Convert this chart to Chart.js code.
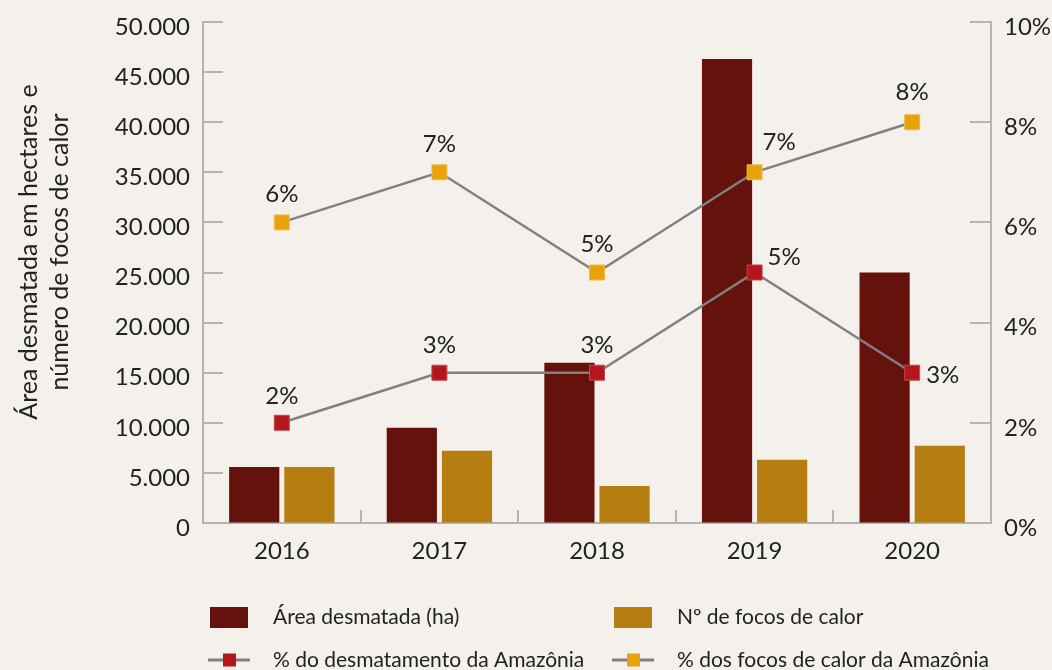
<!DOCTYPE html>
<html>
<head>
<meta charset="utf-8">
<script src="https://cdn.jsdelivr.net/npm/chart.js@4.4.1/dist/chart.umd.min.js"></script>
<style>
html,body{margin:0;padding:0;background:#f4f1ec;}
#wrap{width:1052px;height:670px;position:relative;}
</style>
</head>
<body>
<div id="wrap"><canvas id="c" width="1052" height="670"></canvas></div>
<script>
// ---- data ----
const years = ['2016', '2017', '2018', '2019', '2020'];
const areaDesmatada = [5600, 9500, 16000, 46300, 25000];
const focosCalor = [5600, 7200, 3700, 6300, 7700];
const pctDesmatamento = [2, 3, 3, 5, 3];
const pctFocos = [6, 7, 5, 7, 8];
const leftTicks = [0, 5000, 10000, 15000, 20000, 25000, 30000, 35000, 40000, 45000, 50000];
const rightTicks = [0, 2, 4, 6, 8, 10];

const seriesNames = ['Área desmatada (ha)', 'Nº de focos de calor', '% do desmatamento da Amazônia', '% dos focos de calor da Amazônia'];
const axisTitle = ['Área desmatada em hectares e', 'número de focos de calor'];

// ---- styles ----
const C_RED = '#65120d';
const C_GOLD = '#b67e10';
const C_MRED = '#b3161c';
const C_MYEL = '#e8a20b';
const C_LINE = '#808080';
const C_AXIS = '#b4b4b4';
const C_TEXT = '#222222';
const FONT = 'Lato, "Open Sans", sans-serif';

// label placement per point: [dx, dy, align]
const labelPosRed = [[0,-27,'center'],[0,-27,'center'],[0,-27,'center'],[13,-15,'left'],[14,3,'left']];
const labelPosYel = [[0,-28,'center'],[0,-28,'center'],[0,-28,'center'],[8,-30,'left'],[0,-30,'center']];

function fmt(v){ return String(v).replace(/\B(?=(\d{3})+(?!\d))/g, '.'); }

const bgPlugin = {
  id: 'bg',
  beforeDraw(chart){
    const ctx = chart.ctx;
    ctx.save();
    ctx.fillStyle = '#f4f1ec';
    ctx.fillRect(0,0,chart.width,chart.height);
    ctx.restore();
  }
};

const decoPlugin = {
  id: 'deco',
  afterDraw(chart){
    const ctx = chart.ctx;
    const ca = chart.chartArea;
    const y = chart.scales.y, y1 = chart.scales.y1, x = chart.scales.x;
    ctx.save();
    // tick marks (inward)
    ctx.strokeStyle = C_AXIS;
    ctx.lineWidth = 2;
    ctx.beginPath();
    leftTicks.forEach(v => {
      const py = Math.round(y.getPixelForValue(v));
      if (v === 0) return;
      ctx.moveTo(ca.left, py); ctx.lineTo(ca.left + 20, py);
    });
    rightTicks.forEach(v => {
      const py = Math.round(y1.getPixelForValue(v));
      if (v === 0) return;
      ctx.moveTo(ca.right, py); ctx.lineTo(ca.right - 21, py);
    });
    for (let i = 1; i < years.length; i++) {
      const px = Math.round((x.getPixelForValue(i-1) + x.getPixelForValue(i)) / 2);
      ctx.moveTo(px, ca.bottom); ctx.lineTo(px, ca.bottom - 13);
    }
    ctx.stroke();

    // axis title
    ctx.fillStyle = C_TEXT;
    ctx.font = '25px ' + FONT;
    ctx.textAlign = 'center';
    ctx.textBaseline = 'middle';
    ctx.save();
    ctx.translate(29, 252);
    ctx.rotate(-Math.PI/2);
    ctx.fillText(axisTitle[0], 0, 0);
    ctx.fillText(axisTitle[1], 0, 31);
    ctx.restore();

    // data labels
    const drawLabels = (dsIndex, values, pos) => {
      const meta = chart.getDatasetMeta(dsIndex);
      meta.data.forEach((pt, i) => {
        const p = pos[i];
        ctx.textAlign = p[2];
        ctx.fillText(values[i] + '%', pt.x + p[0], pt.y + p[1]);
      });
    };
    ctx.font = '24px ' + FONT;
    ctx.textBaseline = 'middle';
    drawLabels(2, pctDesmatamento, labelPosRed);
    drawLabels(3, pctFocos, labelPosYel);

    // legend
    ctx.font = '21px ' + FONT;
    ctx.textAlign = 'left';
    ctx.textBaseline = 'middle';
    const cols = [210, 614];
    const textX = [273, 677];
    const row1 = 617.5, row2 = 660;
    [C_RED, C_GOLD].forEach((col, i) => {
      ctx.fillStyle = col;
      ctx.fillRect(cols[i], 607, 38, 21);
      ctx.fillStyle = C_TEXT;
      ctx.fillText(seriesNames[i], textX[i], row1);
    });
    [C_MRED, C_MYEL].forEach((col, i) => {
      ctx.strokeStyle = C_LINE;
      ctx.lineWidth = 3;
      ctx.beginPath();
      ctx.moveTo(cols[i] - 2, row2); ctx.lineTo(cols[i] + 40, row2);
      ctx.stroke();
      ctx.fillStyle = col;
      ctx.fillRect(cols[i] + 13, row2 - 6.5, 13, 13);
      ctx.fillStyle = C_TEXT;
      ctx.fillText(seriesNames[i + 2], textX[i], row2);
    });
    ctx.restore();
  }
};

new Chart(document.getElementById('c'), {
  data: {
    labels: years,
    datasets: [
      { type: 'bar', label: seriesNames[0], data: areaDesmatada, backgroundColor: C_RED, yAxisID: 'y', order: 2,
        categoryPercentage: 0.70, barPercentage: 0.91 },
      { type: 'bar', label: seriesNames[1], data: focosCalor, backgroundColor: C_GOLD, yAxisID: 'y', order: 2,
        categoryPercentage: 0.70, barPercentage: 0.91 },
      { type: 'line', label: seriesNames[2], data: pctDesmatamento, yAxisID: 'y1', order: 0,
        borderColor: C_LINE, borderWidth: 2.5, pointStyle: 'rect', pointRadius: 10.6,
        pointBackgroundColor: C_MRED, pointBorderColor: '#c9454a', pointBorderWidth: 1, tension: 0 },
      { type: 'line', label: seriesNames[3], data: pctFocos, yAxisID: 'y1', order: 0,
        borderColor: C_LINE, borderWidth: 2.5, pointStyle: 'rect', pointRadius: 10.6,
        pointBackgroundColor: C_MYEL, pointBorderColor: '#f0bb4a', pointBorderWidth: 1, tension: 0 }
    ]
  },
  options: {
    responsive: false,
    animation: false,
    devicePixelRatio: 1,
    layout: { padding: { top: 22, left: 0, right: 0, bottom: 0 } },
    plugins: { legend: { display: false }, tooltip: { enabled: false } },
    scales: {
      x: {
        type: 'category',
        offset: true,
        grid: { display: false, drawTicks: false },
        border: { display: true, color: C_AXIS, width: 2 },
        ticks: { color: C_TEXT, font: { family: FONT, size: 24 }, padding: 14, maxRotation: 0 },
        afterFit(s){ s.height = 147; s.paddingLeft = 0; s.paddingRight = 0; }
      },
      y: {
        position: 'left',
        min: 0, max: 50000,
        afterBuildTicks(s){ s.ticks = leftTicks.map(v => ({ value: v })); },
        grid: { drawOnChartArea: false, drawTicks: false },
        border: { display: true, color: C_AXIS, width: 2 },
        ticks: { color: C_TEXT, font: { family: FONT, size: 24 }, padding: 13, labelOffset: 5, callback: v => fmt(v) },
        afterFit(s){ s.width = 203; s.paddingTop = 0; s.paddingBottom = 0; }
      },
      y1: {
        position: 'right',
        min: 0, max: 10,
        afterBuildTicks(s){ s.ticks = rightTicks.map(v => ({ value: v })); },
        grid: { drawOnChartArea: false, drawTicks: false },
        border: { display: true, color: C_AXIS, width: 2 },
        ticks: { color: C_TEXT, font: { family: FONT, size: 24 }, padding: 13, labelOffset: 5, callback: v => v + '%' },
        afterFit(s){ s.width = 61; s.paddingTop = 0; s.paddingBottom = 0; }
      }
    }
  },
  plugins: [bgPlugin, decoPlugin]
});
</script>
</body>
</html>
